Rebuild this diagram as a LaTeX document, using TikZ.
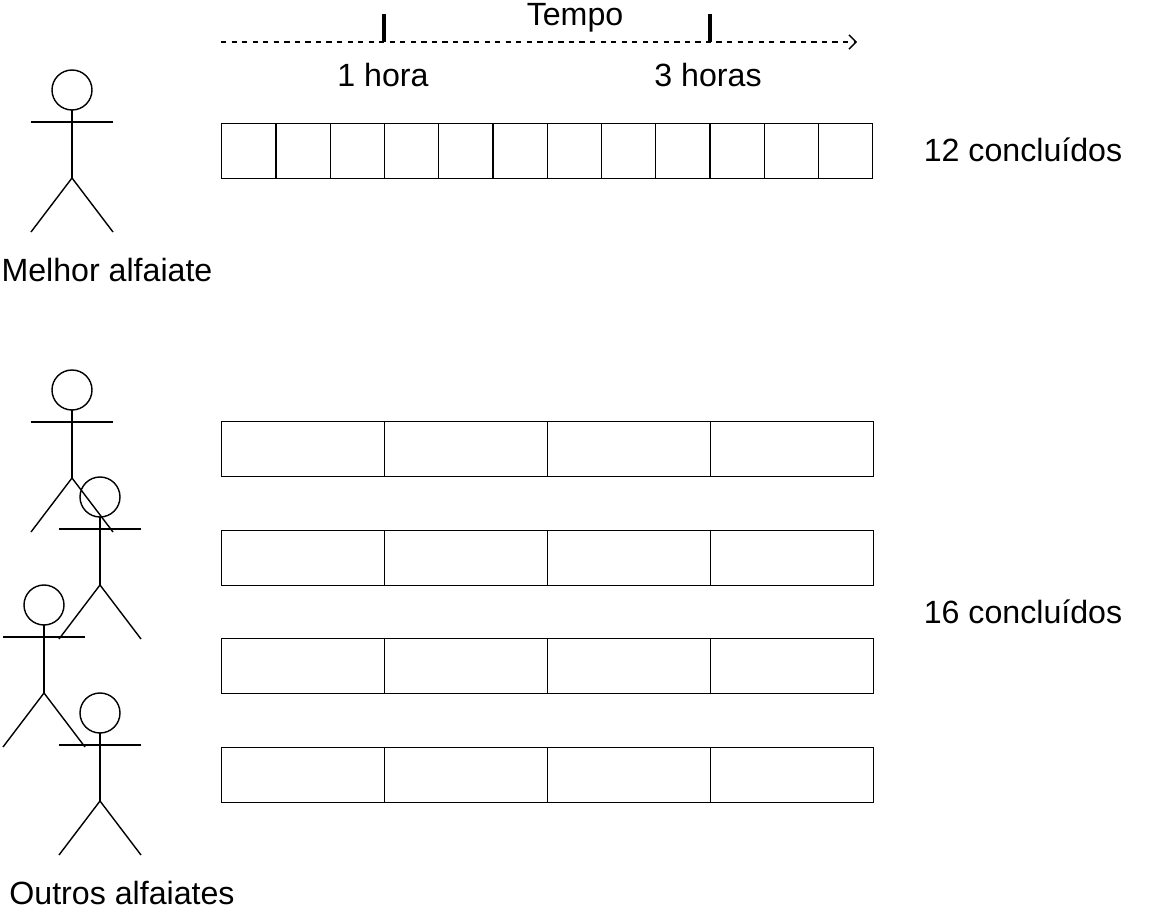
\documentclass[tikz,border=0pt]{standalone}
\usepackage{fontspec}
\setmainfont{Liberation Sans}
\usetikzlibrary{arrows.meta}
\tikzset{
  cell/.style={draw, thick, minimum height=55*0.02cm, inner sep=0pt, anchor=north west},
  label/.style={font=\fontsize{18.3}{22}\selectfont},
}
\newcommand{\tailor}[2]{%
  \draw[thick] (#1,#2) circle (20*0.02cm);
  \draw[thick] (#1,#2+20) -- (#1,#2+88);
  \draw[thick] (#1-41,#2+32) -- (#1+41,#2+32);
  \draw[thick] (#1-41,#2+142) -- (#1,#2+88) -- (#1+41,#2+142);
}
\begin{document}
\begin{tikzpicture}[x=0.02cm,y=-0.02cm]
    \useasboundingbox (0,0) rectangle (1164,912);

    % time axis
    \coordinate (t0) at (221,42);
    \coordinate (t1) at (857,42);
    \draw[thick, dashed, -{Straight Barb[length=4pt]}] (t0) -- (t1);
    \draw[line width=1.8pt] (384,14) -- (384,42);
    \draw[line width=1.8pt] (710,14) -- (710,42);
    \node[label] (tempo) at (575,18) {Tempo};
    \node[label] (h1) at (383,75) {1 hora};
    \node[label] (h3) at (708,75) {3 horas};

    % best tailor
    \tailor{72}{90}
    \node[label] (best) at (107,270) {Melhor alfaiate};
    \foreach \i in {0,...,11}
        \node[cell, minimum width=54.25*0.02cm] (b\i) at (221+54.25*\i,123) {};
    \node[label] (done12) at (1023,150) {12 concluídos};

    % other tailors
    \tailor{72}{390}
    \tailor{100}{497}
    \tailor{44}{605}
    \tailor{100}{713}
    \node[label] (others) at (122,893) {Outros alfaiates};
    \foreach \r/\y in {1/421,2/530,3/638,4/747}
        \foreach \i in {0,...,3}
            \node[cell, minimum width=163*0.02cm] (o\r\i) at (221+163*\i,\y) {};
    \node[label] (done16) at (1023,612) {16 concluídos};
\end{tikzpicture}
\end{document}
